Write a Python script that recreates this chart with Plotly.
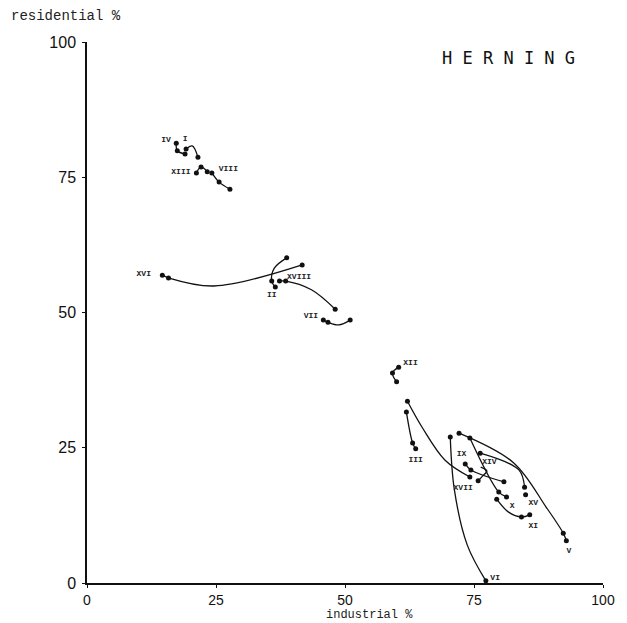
import plotly.graph_objects as go

# ---- district trajectories (industrial %, residential %); dot = 1 marks a plotted observation
IV_x = [17.3, 17.5, 19.0]
IV_y = [81.3, 79.9, 79.3]
IV_d = [1, 1, 1]

I_x = [19.2, 20.4, 21.5]
I_y = [80.2, 80.8, 78.7]
I_d = [1, 0, 1]

XIII_x = [21.2, 22.1, 23.3]
XIII_y = [75.8, 76.9, 76.0]
XIII_d = [1, 1, 1]

VIII_x = [24.2, 25.6, 27.7]
VIII_y = [75.8, 74.1, 72.8]
VIII_d = [1, 1, 1]

XVI_x = [14.6, 15.8, 24.6, 41.7]
XVI_y = [56.9, 56.4, 54.9, 58.8]
XVI_d = [1, 1, 0, 1]

II_x = [36.5, 35.8, 36.3, 38.7]
II_y = [54.7, 55.8, 58.2, 60.1]
II_d = [1, 1, 0, 1]

XVIII_x = [37.3, 38.5, 43.5, 48.1]
XVIII_y = [55.8, 55.8, 54.2, 50.6]
XVIII_d = [1, 1, 0, 1]

VII_x = [45.8, 46.7, 48.8, 51.0]
VII_y = [48.6, 48.2, 47.7, 48.6]
VII_d = [1, 1, 0, 1]

XII_x = [60.4, 59.2, 60.0]
XII_y = [39.9, 38.8, 37.2]
XII_d = [1, 1, 1]

III_x = [61.9, 63.1, 63.7]
III_y = [31.6, 25.9, 24.8]
III_d = [1, 1, 1]

XVII_x = [62.1, 65.0, 69.4, 74.2]
XVII_y = [33.6, 28.7, 22.7, 19.6]
XVII_d = [1, 0, 0, 1]

IX_x = [73.3, 74.4, 80.8]
IX_y = [22.0, 20.9, 18.7]
IX_d = [1, 1, 1]

VI_x = [70.4, 71.2, 73.7, 77.3]
VI_y = [27.0, 17.2, 7.0, 0.4]
VI_d = [1, 0, 0, 1]

V_x = [72.1, 82.7, 89.0, 92.3, 92.9]
V_y = [27.7, 22.2, 14.0, 9.2, 7.8]
V_d = [1, 0, 0, 1, 1]

X_x = [74.2, 79.8, 81.3]
X_y = [26.8, 16.8, 15.9]
X_d = [1, 1, 1]

XIV_x = [76.2, 83.7, 84.8]
XIV_y = [24.0, 20.9, 17.7]
XIV_d = [1, 0, 1]

XIVs_x = [76.3, 77.5, 76.7, 75.8]
XIVs_y = [21.4, 20.7, 19.8, 18.9]
XIVs_d = [0, 0, 0, 1]

XV_x = [85.0]
XV_y = [16.3]
XV_d = [1]

XI_x = [79.4, 81.7, 84.2, 85.8]
XI_y = [15.5, 13.1, 12.2, 12.6]
XI_d = [1, 0, 1, 1]

# ---- district labels
label_text = ["IV", "I", "XIII", "VIII", "XVI", "II", "XVIII", "VII", "XII", "III",
              "XVII", "IX", "VI", "V", "X", "XIV", "XV", "XI"]
label_x = [15.3, 19.0, 18.2, 27.4, 11.0, 35.8, 41.1, 43.4, 62.7, 63.7,
           72.9, 72.6, 79.1, 93.4, 82.4, 78.0, 86.5, 86.5]
label_y = [81.8, 82.0, 76.0, 76.6, 57.1, 53.3, 56.6, 49.4, 40.6, 22.8,
           17.6, 23.8, 1.0, 6.0, 14.3, 22.3, 14.7, 10.6]

# ---- axis ticks
tick_vals = [0, 25, 50, 75, 100]
tick_text = ["0", "25", "50", "75", "100"]

tracks = [
    (IV_x, IV_y, IV_d), (I_x, I_y, I_d), (XIII_x, XIII_y, XIII_d), (VIII_x, VIII_y, VIII_d),
    (XVI_x, XVI_y, XVI_d), (II_x, II_y, II_d), (XVIII_x, XVIII_y, XVIII_d), (VII_x, VII_y, VII_d),
    (XII_x, XII_y, XII_d), (III_x, III_y, III_d), (XVII_x, XVII_y, XVII_d), (IX_x, IX_y, IX_d),
    (VI_x, VI_y, VI_d), (V_x, V_y, V_d), (X_x, X_y, X_d), (XIV_x, XIV_y, XIV_d),
    (XIVs_x, XIVs_y, XIVs_d), (XV_x, XV_y, XV_d), (XI_x, XI_y, XI_d),
]

fig = go.Figure()
for xs, ys, ds in tracks:
    if len(xs) > 1:
        fig.add_trace(go.Scatter(x=xs, y=ys, mode="lines",
                                 line=dict(color="#111", width=1.3, shape="spline", smoothing=1.0),
                                 hoverinfo="skip", showlegend=False))
    px = [a for a, d in zip(xs, ds) if d]
    py = [b for b, d in zip(ys, ds) if d]
    fig.add_trace(go.Scatter(x=px, y=py, mode="markers",
                             marker=dict(color="#111", size=5),
                             showlegend=False))

fig.add_trace(go.Scatter(x=label_x, y=label_y, mode="text", text=label_text,
                         textfont=dict(family="Liberation Mono", size=8, color="#222", weight="bold"),
                         showlegend=False, hoverinfo="skip"))

fig.update_layout(
    width=619, height=615,
    margin=dict(l=79, r=20, t=34, b=40),
    paper_bgcolor="white", plot_bgcolor="white",
    xaxis=dict(range=[0, 100], tickvals=tick_vals, ticktext=tick_text,
               showgrid=False, zeroline=False, showline=True, linecolor="#111", linewidth=1.5,
               ticks="outside", ticklen=3, tickcolor="#111", ticklabelstandoff=0,
               tickfont=dict(family="Liberation Sans", size=14, color="#111")),
    yaxis=dict(range=[0, 100], tickvals=tick_vals, ticktext=tick_text,
               showgrid=False, zeroline=False, showline=True, linecolor="#111", linewidth=1.5,
               ticks="outside", ticklen=3, tickcolor="#111", ticklabelstandoff=3,
               tickfont=dict(family="Liberation Sans", size=16, color="#111")),
    annotations=[
        dict(text="residential %", xref="paper", yref="paper", x=-0.152, y=1.048,
             xanchor="left", yanchor="middle", showarrow=False,
             font=dict(family="Liberation Mono", size=14, color="#222")),
        dict(text="industrial %", xref="paper", yref="paper", x=0.548, y=-0.074,
             xanchor="center", yanchor="bottom", showarrow=False, borderpad=0,
             font=dict(family="Liberation Mono", size=12, color="#222")),
        dict(text="H E R N I N G", xref="paper", yref="paper", x=0.817, y=0.970,
             xanchor="center", yanchor="middle", showarrow=False,
             font=dict(family="DejaVu Sans Mono", size=17, color="#111")),
    ],
)

fig.write_html("out.html")
